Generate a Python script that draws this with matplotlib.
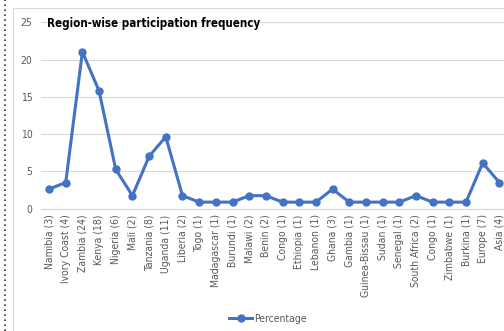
import matplotlib.pyplot as plt
from matplotlib.lines import Line2D
from matplotlib.patches import Rectangle

regions = ['Namibia (3)', 'Ivory Coast (4)', 'Zambia (24)', 'Kenya (18)', 'Nigeria (6)',
           'Mali (2)', 'Tanzania (8)', 'Uganda (11)', 'Liberia (2)', 'Togo (1)',
           'Madagascar (1)', 'Burundi (1)', 'Malawi (2)', 'Benin (2)', 'Congo (1)',
           'Ethiopia (1)', 'Lebanon (1)', 'Ghana (3)', 'Gambia (1)', 'Guinea-Bissau (1)',
           'Sudan (1)', 'Senegal (1)', 'South Africa (2)', 'Congo (1)', 'Zimbabwe (1)',
           'Burkina (1)', 'Europe (7)', 'Asia (4)']
percentage = [2.63, 3.51, 21.05, 15.79, 5.26, 1.75, 7.02, 9.65, 1.75, 0.88,
              0.88, 0.88, 1.75, 1.75, 0.88, 0.88, 0.88, 2.63, 0.88, 0.88,
              0.88, 0.88, 1.75, 0.88, 0.88, 0.88, 6.14, 3.51]
yticks = [0, 5, 10, 15, 20, 25]

blue = '#4472C4'
grey = '#595959'
plt.rcParams['font.family'] = ['DejaVu Sans']
plt.rcParams['font.stretch'] = 'condensed'

fig = plt.figure(figsize=(5.04, 3.31), dpi=100)

# chart frame and dotted margin line
fig.patches.append(Rectangle((13 / 504, -0.1), 1.2, (331 - 8) / 331 + 0.1,
                             transform=fig.transFigure, fill=False,
                             edgecolor='#d9d9d9', linewidth=0.8))
fig.lines.append(Line2D([5 / 504, 5 / 504], [0, 1], transform=fig.transFigure,
                        color='#333333', linestyle=(0, (1, 2)), linewidth=1.2))

ax = fig.add_axes([40.7 / 504, 0.3695, 467 / 504, 0.563])
x = range(len(regions))
ax.plot(x, percentage, color=blue, linewidth=2.2, marker='o', markersize=5,
        label='Percentage')
ax.set_xlim(-0.5, len(regions) - 0.5)
ax.set_ylim(0, 25)
ax.set_yticks(yticks)
ax.set_xticks(list(x))
ax.set_xticklabels(regions, rotation=90, fontsize=7.5, color=grey)
ax.tick_params(axis='y', labelsize=7.5, labelcolor=grey, length=0, pad=6)
ax.tick_params(axis='x', length=0, pad=4)
ax.grid(axis='y', color='#d9d9d9', linewidth=0.8)
ax.set_axisbelow(True)
for s in ['top', 'right', 'left']:
    ax.spines[s].set_visible(False)
ax.spines['bottom'].set_color('#d9d9d9')

fig.text(47 / 504, 1 - 23 / 331, 'Region-wise participation frequency',
         fontsize=8.3, fontweight='bold', color='black', va='center', ha='left')

fig.legend(loc='center', bbox_to_anchor=(268 / 504, 1 - 319 / 331), frameon=False,
           fontsize=7.5, labelcolor=grey, handlelength=2.2, handletextpad=0.2)

fig.savefig('out.png', dpi=100)
